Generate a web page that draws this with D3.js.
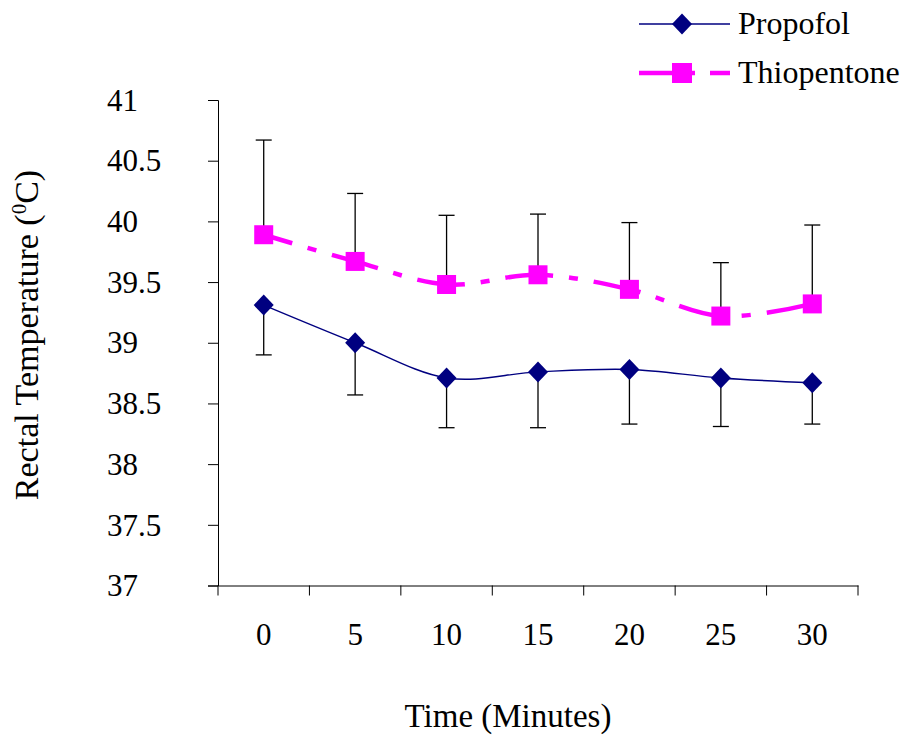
<!DOCTYPE html>
<html>
<head>
<meta charset="utf-8">
<script src="https://cdn.jsdelivr.net/npm/d3@7"></script>
<style>
  body { margin: 0; background: #fff; }
</style>
</head>
<body>
<div id="canvas"></div>
<script>
const times = [0, 5, 10, 15, 20, 25, 30];
const propofol = [39.31, 39.0, 38.71, 38.76, 38.78, 38.71, 38.67];
const propofolLow = [38.9, 38.57, 38.3, 38.3, 38.33, 38.31, 38.33];
const thiopentone = [39.89, 39.67, 39.48, 39.56, 39.44, 39.22, 39.32];
const thiopentoneHigh = [40.67, 40.23, 40.05, 40.06, 39.99, 39.66, 39.97];
const yTicks = [37, 37.5, 38, 38.5, 39, 39.5, 40, 40.5, 41];

const width = 901;
const height = 738;
const serif = "'Liberation Serif', 'Times New Roman', Times, serif";

const svg = d3.select("#canvas").append("svg")
  .attr("width", width)
  .attr("height", height)
  .style("font-family", serif);

const x = d3.scaleBand()
  .domain(times)
  .range([218, 858]);

const y = d3.scaleLinear()
  .domain([37, 41])
  .range([585.5, 100]);

const cx = d => x(d) + x.bandwidth() / 2;

// axes
const yAxis = svg.append("g")
  .attr("transform", "translate(218,0)")
  .call(d3.axisLeft(y).tickValues(yTicks).tickSize(10)
    .tickFormat(d => d3.format("")(d)));

// labels are left aligned in the original
yAxis.selectAll(".tick text")
  .attr("text-anchor", "start")
  .attr("x", -111)
  .attr("dy", "0.33em");

const xAxis = svg.append("g")
  .attr("transform", "translate(0,585.5)")
  .call(d3.axisBottom(x).tickSize(0).tickSizeOuter(0).tickPadding(37));

// ticks between categories
xAxis.selectAll("line.sep")
  .data(d3.range(times.length + 1))
  .enter()
  .append("line")
  .attr("class", "sep")
  .attr("x1", i => 218 + i * x.step())
  .attr("x2", i => 218 + i * x.step())
  .attr("y1", 0)
  .attr("y2", 10)
  .attr("stroke", "#000");

[yAxis, xAxis].forEach(a => {
  a.attr("font-family", serif).attr("font-size", 31);
  a.selectAll("text")
    .style("font-family", serif)
    .style("font-size", "31px")
    .attr("fill", "#000");
  a.select(".domain").attr("stroke", "#000");
  a.selectAll("line").attr("stroke", "#000");
});

// error bars
const bars = [
  ...times.map((t, i) => ({ t, from: propofol[i], to: propofolLow[i] })),
  ...times.map((t, i) => ({ t, from: thiopentone[i], to: thiopentoneHigh[i] }))
];
const eb = svg.append("g").attr("stroke", "#000").attr("stroke-width", 1.3);
bars.forEach(b => {
  eb.append("line")
    .attr("x1", cx(b.t)).attr("x2", cx(b.t))
    .attr("y1", y(b.from)).attr("y2", y(b.to));
  eb.append("line")
    .attr("x1", cx(b.t) - 8).attr("x2", cx(b.t) + 8)
    .attr("y1", y(b.to)).attr("y2", y(b.to));
});

const line = d3.line()
  .x(d => cx(d[0]))
  .y(d => y(d[1]))
  .curve(d3.curveCardinal.tension(0));

svg.append("path")
  .datum(times.map((t, i) => [t, propofol[i]]))
  .attr("d", line)
  .attr("fill", "none")
  .attr("stroke", "#000080")
  .attr("stroke-width", 1.4);

svg.append("path")
  .datum(times.map((t, i) => [t, thiopentone[i]]))
  .attr("d", line)
  .attr("fill", "none")
  .attr("stroke", "#ff00ff")
  .attr("stroke-width", 4.5)
  .attr("stroke-dasharray", "48,16,9,16")
  .attr("stroke-dashoffset", 18);

const diamond = (px, py) => `M${px},${py - 10.5}L${px + 10},${py}L${px},${py + 10.5}L${px - 10},${py}Z`;

svg.selectAll("path.dia")
  .data(times)
  .enter()
  .append("path")
  .attr("class", "dia")
  .attr("d", (t, i) => diamond(cx(t), y(propofol[i])))
  .attr("fill", "#000080");

svg.selectAll("rect.sq")
  .data(times)
  .enter()
  .append("rect")
  .attr("class", "sq")
  .attr("x", t => cx(t) - 9.5)
  .attr("y", (t, i) => y(thiopentone[i]) - 9.5)
  .attr("width", 19)
  .attr("height", 19)
  .attr("fill", "#ff00ff");

// legend
const lg = svg.append("g");
lg.append("line")
  .attr("x1", 639).attr("x2", 730).attr("y1", 24).attr("y2", 24)
  .attr("stroke", "#000080").attr("stroke-width", 1.4);
lg.append("path").attr("d", diamond(682, 24)).attr("fill", "#000080");
lg.append("text").attr("x", 738).attr("y", 34)
  .style("font-family", serif).style("font-size", "32px").text("Propofol");

lg.append("line")
  .attr("x1", 639).attr("x2", 730).attr("y1", 73).attr("y2", 73)
  .attr("stroke", "#ff00ff").attr("stroke-width", 4.5)
  .attr("stroke-dasharray", "56,15,20");
lg.append("rect").attr("x", 672).attr("y", 63).attr("width", 20).attr("height", 20).attr("fill", "#ff00ff");
lg.append("text").attr("x", 738).attr("y", 83)
  .style("font-family", serif).style("font-size", "32px").text("Thiopentone");

// axis titles
svg.append("text")
  .attr("x", 508).attr("y", 727)
  .attr("text-anchor", "middle")
  .style("font-family", serif)
  .style("font-size", "33px")
  .text("Time (Minutes)");

const yt = svg.append("text")
  .attr("transform", "translate(38,335) rotate(-90)")
  .attr("text-anchor", "middle")
  .style("font-family", serif)
  .style("font-size", "34px");
yt.append("tspan").text("Rectal Temperature (");
yt.append("tspan").attr("dy", -12).style("font-size", "21px").text("0");
yt.append("tspan").attr("dy", 12).text("C)");
</script>
</body>
</html>
